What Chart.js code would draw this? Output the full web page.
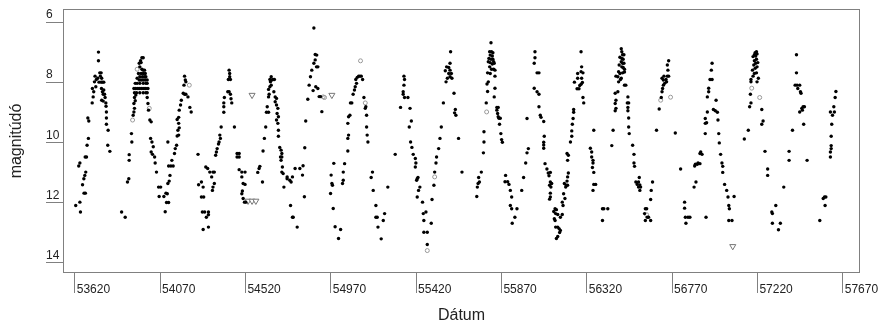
<!DOCTYPE html>
<html><head><meta charset="utf-8">
<script src="https://cdn.jsdelivr.net/npm/chart.js@4.4.1/dist/chart.umd.min.js"></script>
<style>html,body{margin:0;padding:0;background:#fff}</style>
</head><body>
<canvas id="c" width="879" height="322"></canvas>
<script>
// Julian date (-2400000) vs visual magnitude, one array per pulsation cycle
const cycle1 = [[53625,12.10],[53650,12.32],[53647,11.99],[53641,10.79],[53647,10.69],[53661,11.41],[53668,11.21],[53673,11.10],[53678,10.99],[53669,11.69],[53676,11.69],[53675,10.49],[53682,10.49],[53685,10.10],[53692,9.87],[53689,9.19],[53694,9.29],[53712,8.69],[53713,8.21],[53720,8.32],[53717,8.49],[53724,7.99],[53727,7.80],[53734,7.91],[53731,8.15],[53741,7.87],[53745,7.29],[53745,7.00],[53752,7.69],[53759,7.69],[53755,7.80],[53748,8.00],[53759,8.00],[53766,8.00],[53773,8.00],[53762,7.87],[53761,8.21],[53766,8.32],[53773,8.26],[53770,8.40],[53777,8.40],[53762,8.60],[53770,8.63],[53780,8.51],[53784,8.69],[53785,8.80],[53787,8.99],[53787,9.19],[53787,9.40],[53796,9.60],[53794,10.10],[53805,10.30]];
const cycle2 = [[53867,12.32],[53886,12.49],[53898,11.32],[53905,11.21],[53907,10.60],[53907,10.41],[53921,9.99],[53919,9.71],[53928,9.10],[53932,8.99],[53935,8.87],[53932,8.71],[53939,8.62],[53935,8.51],[53942,8.43],[53932,8.21],[53942,8.21],[53953,8.21],[53963,8.21],[53974,8.21],[53985,8.21],[53995,8.21],[54006,8.21],[53935,8.35],[53946,8.35],[53963,8.35],[53981,8.35],[53995,8.35],[54002,8.35],[53939,8.04],[53949,8.04],[53963,8.04],[53981,8.04],[53995,8.04],[54002,8.04],[53949,7.87],[53960,7.93],[53970,7.93],[53981,7.93],[53992,7.93],[54002,7.93],[53963,7.82],[53977,7.82],[53988,7.82],[53995,7.82],[53956,7.71],[53970,7.71],[53981,7.71],[53992,7.71],[53974,7.57],[53981,7.60],[53988,7.60],[53963,7.49],[53970,7.35],[53960,7.37],[53967,7.29],[53974,7.19],[53981,7.19],[54002,8.51],[54006,8.71],[54009,8.93],[54016,9.26],[54023,9.32],[54020,9.87],[54027,9.99],[54034,10.15],[54023,10.32],[54030,10.40],[54041,10.49],[54044,10.69],[54051,10.99]];
const cycle3 = [[54062,11.49],[54073,11.49],[54065,11.80],[54097,12.31],[54090,11.80],[54101,11.69],[54108,11.71],[54104,12.00],[54115,12.00],[54111,11.37],[54118,11.29],[54122,11.10],[54115,10.79],[54127,10.79],[54139,10.79],[54111,9.99],[54132,10.60],[54146,10.37],[54150,10.21],[54157,10.10],[54160,9.79],[54168,9.76],[54164,9.60],[54171,9.52],[54168,9.37],[54160,9.24],[54168,9.17],[54171,8.93],[54178,8.76],[54182,8.60],[54192,8.37],[54199,8.40],[54206,8.40],[54217,8.49],[54196,8.10],[54203,7.93],[54199,7.80],[54206,7.99],[54227,8.84],[54234,8.99]];
const cycle4 = [[54270,10.40],[54273,11.41],[54288,11.32],[54297,11.49],[54288,11.82],[54300,11.82],[54293,12.32],[54305,12.32],[54325,12.32],[54325,12.41],[54314,12.49],[54297,12.90],[54325,12.82],[54311,10.82],[54321,10.87],[54332,10.99],[54342,11.15],[54349,10.99],[54356,10.99],[54356,11.37],[54349,11.49],[54346,11.60],[54363,10.43],[54367,10.32],[54371,10.21],[54378,10.06],[54381,9.99],[54388,9.87],[54385,9.76],[54392,9.49],[54406,9.00],[54406,8.82],[54406,8.69],[54409,8.51],[54427,8.32],[54434,8.32],[54441,8.40],[54444,8.55],[54448,8.69],[54430,7.91],[54437,7.82],[54437,7.71],[54434,7.60],[54441,7.91],[54462,9.49],[54476,10.37],[54487,10.37],[54476,10.49],[54487,10.49],[54487,10.91],[54501,10.99],[54518,10.99],[54501,11.15],[54508,11.37],[54518,11.40],[54504,11.62],[54501,11.71],[54508,11.87],[54515,11.99],[54522,11.99]];
const cycle5 = [[54585,11.00],[54592,10.87],[54596,10.80],[54610,11.32],[54613,10.29],[54620,9.87],[54627,9.49],[54631,9.00],[54642,9.00],[54635,8.82],[54642,8.49],[54645,8.40],[54642,8.24],[54649,8.15],[54656,8.10],[54652,7.99],[54659,7.93],[54649,7.91],[54656,7.82],[54666,7.91],[54673,7.91],[54670,8.32],[54677,8.49],[54684,8.54],[54677,8.65],[54684,8.76],[54691,8.87],[54687,9.04],[54694,9.15],[54684,9.26],[54691,9.37],[54694,9.60],[54694,9.80],[54701,10.17],[54708,10.26],[54712,10.37],[54705,10.49],[54712,10.49],[54708,10.60],[54715,10.82],[54712,10.99],[54719,11.04],[54723,11.49],[54740,11.15],[54740,11.21],[54754,11.26],[54761,11.32],[54768,11.15],[54782,10.87],[54758,12.10],[54772,12.49],[54768,12.49],[54793,12.82]];
const cycle6 = [[54807,10.87],[54824,10.78],[54821,11.09],[54831,11.81],[54833,10.18],[54838,9.29],[54849,8.57],[54856,8.10],[54863,7.82],[54870,7.60],[54881,7.37],[54888,7.26],[54895,7.49],[54902,7.49],[54881,6.20],[54888,7.08],[54896,7.10],[54877,8.28],[54891,8.15],[54902,8.21],[54909,8.48],[54916,8.48],[54923,8.98]];
const cycle7 = [[54972,11.09],[54976,11.37],[54979,11.43],[54969,11.70],[54983,12.20],[54986,10.70],[55011,13.20],[54993,12.81],[55022,12.90],[55032,11.37],[55036,11.26],[55036,10.99],[55043,10.71],[55060,10.29],[55060,9.87],[55064,9.76],[55060,9.37],[55064,9.15],[55071,9.10],[55074,8.69],[55081,8.69],[55088,8.40],[55095,8.26],[55099,8.15],[55106,8.04],[55102,7.91],[55110,7.84],[55117,7.80],[55124,7.80],[55131,7.80],[55138,7.91],[55145,8.51],[55155,8.82],[55152,8.87],[55159,9.10],[55159,9.49],[55162,9.76],[55166,9.99],[55190,10.99],[55183,11.17],[55194,11.60],[55208,12.10],[55208,12.49],[55215,12.49],[55219,12.82],[55236,13.21],[55247,12.60],[55254,12.37],[55271,11.49],[55310,10.40]];
const cycle8 = [[55338,8.84],[55356,7.80],[55359,7.91],[55356,8.10],[55352,8.32],[55352,8.40],[55359,8.51],[55377,8.51],[55388,8.87],[55384,9.49],[55395,9.29],[55391,9.99],[55398,10.17],[55405,10.40],[55416,10.54],[55419,10.69],[55416,10.82],[55426,11.21],[55430,11.17],[55423,11.26],[55440,11.49],[55433,11.60],[55426,11.82],[55454,11.99],[55472,12.32],[55458,12.37],[55461,12.60],[55500,12.69],[55461,12.99],[55479,12.99],[55479,13.40]];
const cycle9 = [[55504,11.90],[55514,11.43],[55518,10.99],[55525,10.69],[55528,10.49],[55539,10.21],[55546,9.87],[55553,9.49],[55564,8.69],[55578,7.99],[55585,7.87],[55574,7.62],[55581,7.49],[55592,7.51],[55599,7.60],[55592,7.71],[55606,7.71],[55599,7.82],[55609,7.87],[55599,7.37],[55602,6.99],[55620,8.37],[55627,8.91],[55623,9.02],[55630,9.10],[55644,9.87],[55662,10.99]];
const cycle10 = [[55740,11.80],[55743,11.49],[55747,11.37],[55754,11.32],[55750,11.17],[55764,10.99],[55775,10.35],[55778,9.99],[55778,9.65],[55815,6.69],[55808,6.99],[55818,6.99],[55825,7.02],[55811,7.10],[55822,7.13],[55804,7.21],[55815,7.24],[55825,7.24],[55801,7.32],[55811,7.35],[55829,7.32],[55822,7.40],[55832,7.37],[55808,7.49],[55818,7.57],[55829,7.57],[55836,7.60],[55797,7.69],[55811,7.71],[55836,7.80],[55801,7.99],[55794,8.06],[55797,8.31],[55790,8.69],[55836,8.20],[55832,8.49],[55846,8.84],[55853,8.84],[55846,8.93],[55850,9.04],[55853,9.15],[55857,9.20],[55864,9.20],[55860,9.40],[55867,9.71],[55871,9.91],[55875,10.00],[55892,11.10],[55889,11.31],[55903,11.31],[55910,11.40],[55917,11.60],[55924,11.82],[55917,12.10],[55924,12.21],[55952,12.21],[55941,12.49],[55927,12.69]];
const cycle11 = [[55977,11.60],[55987,11.17],[55998,10.69],[56005,10.35],[56012,10.21],[56005,9.21],[56047,6.99],[56047,7.19],[56043,7.37],[56058,7.69],[56068,7.69],[56043,8.20],[56058,8.32],[56068,8.40],[56068,8.82],[56075,9.10],[56079,9.17],[56093,9.31],[56096,9.80],[56093,10.00],[56093,10.09],[56093,10.20],[56100,10.71],[56110,10.89],[56117,11.02],[56128,11.00],[56121,11.11],[56128,11.32],[56135,11.37],[56124,11.43],[56131,11.49],[56128,11.69],[56128,11.82],[56124,11.89],[56153,12.21],[56160,12.24],[56146,12.30],[56156,12.37],[56167,12.40],[56149,12.54],[56153,12.60],[56181,12.49],[56191,12.40],[56156,12.82],[56167,12.82],[56174,12.87],[56181,12.93],[56177,13.00],[56167,13.13],[56160,13.20]];
const cycle12 = [[56195,12.10],[56191,11.99],[56205,11.87],[56198,11.71],[56209,11.49],[56212,11.43],[56202,11.37],[56219,11.43],[56216,11.29],[56219,11.15],[56223,11.02],[56219,10.60],[56223,10.43],[56216,10.37],[56234,9.99],[56241,9.80],[56241,9.62],[56244,9.40],[56248,9.21],[56251,9.00],[56251,8.91],[56269,8.22],[56279,8.22],[56255,8.00],[56283,8.11],[56290,8.07],[56297,8.01],[56272,7.87],[56293,7.87],[56290,7.65],[56300,7.69],[56272,7.71],[56293,7.49],[56290,6.99],[56300,8.51],[56304,8.69],[56357,9.60],[56339,10.20],[56346,10.32],[56346,10.49],[56353,10.60],[56353,10.69],[56350,10.84],[56357,11.00],[56357,11.40],[56367,11.40],[56353,11.60],[56403,12.21],[56410,12.21],[56431,12.21],[56403,12.60]];
const cycle13 = [[56459,9.60],[56452,10.11],[56502,6.89],[56505,6.99],[56509,7.09],[56516,7.09],[56495,7.17],[56505,7.21],[56512,7.24],[56502,7.32],[56509,7.37],[56516,7.37],[56491,7.43],[56505,7.49],[56512,7.51],[56519,7.57],[56488,7.65],[56495,7.71],[56509,7.69],[56519,7.66],[56474,7.80],[56484,7.82],[56502,7.87],[56488,7.99],[56498,7.91],[56519,8.10],[56526,8.10],[56470,8.37],[56484,8.32],[56474,8.60],[56470,8.71],[56474,8.87],[56470,8.95],[56537,8.49],[56534,8.69],[56541,8.69],[56537,8.84],[56537,8.95],[56541,9.19],[56541,9.49],[56544,9.71],[56562,10.10],[56569,10.40],[56569,10.69],[56572,10.80],[56597,11.17],[56593,11.32],[56579,11.32],[56586,11.40],[56600,11.42],[56593,11.49],[56604,11.49],[56600,11.60],[56629,12.21],[56636,12.21],[56625,12.37],[56639,12.49],[56629,12.60],[56646,12.49],[56657,12.60],[56657,11.90],[56660,11.60],[56667,11.32]];
const cycle14 = [[56688,9.60],[56702,8.89],[56713,8.51],[56717,8.32],[56720,8.21],[56724,8.10],[56731,8.04],[56724,7.93],[56738,7.91],[56741,7.99],[56745,7.80],[56752,7.80],[56717,7.87],[56727,7.80],[56748,7.60],[56745,7.43],[56752,7.29],[56787,9.69],[56815,10.89],[56836,11.99],[56836,12.19],[56840,12.49],[56854,12.49],[56864,12.49],[56843,12.69]];
const cycle15 = [[56886,11.49],[56896,11.32],[56889,10.79],[56893,10.73],[56903,10.73],[56907,10.69],[56917,10.71],[56917,10.37],[56921,10.32],[56928,10.40],[56945,9.71],[56945,9.37],[56952,9.35],[56945,9.21],[56956,8.99],[56956,8.49],[56963,8.32],[56963,8.20],[56970,7.91],[56981,7.91],[56977,7.60],[56981,7.37],[56988,8.91],[56998,8.95],[57002,8.60],[57009,9.00],[57012,9.26],[57016,9.71],[57019,10.02],[57026,10.40],[57033,10.69],[57037,10.80],[57037,11.00],[57047,11.40],[57058,11.60],[57065,11.82],[57069,12.10],[57072,12.21],[57097,11.80],[57069,12.60],[57086,12.60],[56949,12.49]];
const cycle16 = [[57151,9.89],[57172,9.60],[57179,8.82],[57186,8.69],[57183,8.40],[57186,7.99],[57186,7.91],[57197,7.80],[57204,7.71],[57215,7.69],[57194,7.60],[57208,7.54],[57218,7.49],[57201,7.43],[57211,7.37],[57222,7.35],[57204,7.29],[57215,7.24],[57197,7.15],[57211,7.13],[57204,7.09],[57218,7.06],[57208,7.02],[57215,6.99],[57225,7.87],[57218,7.99],[57243,8.91],[57250,9.29],[57243,9.40],[57260,10.30],[57274,10.89],[57274,11.10],[57317,12.10],[57296,12.32],[57299,12.37],[57299,12.69],[57341,12.69],[57331,12.91],[57359,11.49]];
const cycle17 = [[57387,10.30],[57387,10.60],[57405,9.60],[57426,7.09],[57426,7.69],[57419,8.10],[57429,8.10],[57443,8.10],[57433,8.21],[57447,8.32],[57450,8.37],[57443,8.99],[57454,8.87],[57461,8.82],[57468,8.82],[57457,8.93],[57464,9.40],[57482,10.60]];
const cycle18 = [[57549,12.60],[57567,11.87],[57574,11.82],[57581,11.82],[57577,12.10],[57605,10.49],[57605,10.32],[57609,10.21],[57609,10.11],[57609,9.80],[57612,9.40],[57605,8.99],[57616,9.10],[57626,8.99],[57623,8.82],[57630,8.51],[57634,8.31]];
// secondary (grey) observations
const greyObs = [[53925,9.26],[53949,7.57],[54013,8.87],[54224,8.10],[54930,8.49],[54937,8.51],[55127,7.29],[55152,8.69],[55479,13.60],[55518,11.15],[55792,8.99],[56636,12.41],[56710,8.60],[56762,8.50],[57190,8.20],[57232,8.51]];
// fainter-than limits (open triangles)
const fainterThan = [[54555,8.43],[54534,11.95],[54555,11.95],[54575,11.95],[54976,8.43],[57090,13.46]];
const xTickValues = [53620,54070,54520,54970,55420,55870,56320,56770,57220,57670];
const yTickValues = [6,8,10,12,14];
const xLimits = [53558,57761];
const yLimits = [5.567,14.346];

const allCycles = [cycle1,cycle2,cycle3,cycle4,cycle5,cycle6,cycle7,cycle8,cycle9,cycle10,cycle11,cycle12,cycle13,cycle14,cycle15,cycle16,cycle17,cycle18];
const toPts = a => a.map(p => ({x: p[0], y: p[1]}));
const FONT = '"Liberation Sans", Arial, sans-serif';
Chart.defaults.font.family = FONT;

const framePlugin = {
  id: 'frame',
  beforeDatasetsDraw(chart) {
    const {ctx, chartArea: a} = chart;
    ctx.save();
    ctx.strokeStyle = '#808080';
    ctx.lineWidth = 1;
    ctx.strokeRect(a.left + 0.5, a.top + 0.5, a.right - a.left - 1, a.bottom - a.top - 1);
    ctx.restore();
  }
};

new Chart(document.getElementById('c'), {
  type: 'scatter',
  data: {
    datasets: [
      {data: toPts([].concat(...allCycles)), pointRadius: 1.7, pointHoverRadius: 1.7, pointBackgroundColor: '#000', pointBorderWidth: 0},
      {data: toPts(greyObs), pointRadius: 2, pointHoverRadius: 2, pointBackgroundColor: 'rgba(255,255,255,0)', pointBorderColor: '#999', pointBorderWidth: 1},
      {data: toPts(fainterThan), pointStyle: 'triangle', rotation: 180, pointRadius: 3.5, pointHoverRadius: 3.5, pointBackgroundColor: '#fff', pointBorderColor: '#777', pointBorderWidth: 1}
    ]
  },
  options: {
    responsive: false,
    devicePixelRatio: 1,
    animation: false,
    events: [],
    layout: {padding: {left: 46, top: 9, right: 19, bottom: 0}},
    plugins: {legend: {display: false}, tooltip: {enabled: false}},
    scales: {
      x: {
        type: 'linear', position: 'bottom',
        min: xLimits[0], max: xLimits[1],
        afterBuildTicks: s => { s.ticks = xTickValues.map(v => ({value: v})); },
        afterFit: s => { s.height = 49; s.paddingLeft = 0; s.paddingRight = 0; },
        ticks: {autoSkip: false, maxRotation: 0, minRotation: 0, align: 'start', labelOffset: 2, padding: -11,
                color: '#222', font: {size: 12, family: FONT}, callback: v => String(v)},
        grid: {drawOnChartArea: false, drawTicks: true, tickLength: 20, color: '#808080', lineWidth: 1},
        border: {display: false},
        title: {display: true, text: 'Dátum', color: '#222', font: {size: 16, family: FONT}, padding: {top: 0, bottom: -3}}
      },
      y: {
        type: 'linear', position: 'left', reverse: true,
        min: yLimits[0], max: yLimits[1],
        afterBuildTicks: s => { s.ticks = yTickValues.map(v => ({value: v})); },
        afterFit: s => { s.width = 17; s.paddingTop = 0; s.paddingBottom = 0; },
        ticks: {crossAlign: 'far', labelOffset: -7, padding: 0, color: '#222', font: {size: 12, family: FONT}, callback: v => String(v)},
        grid: {drawOnChartArea: false, drawTicks: true, tickLength: 17, color: '#808080', lineWidth: 1},
        border: {display: false},
        title: {display: true, text: 'magnitúdó', color: '#222', font: {size: 16, family: FONT}, padding: {top: -38.6, bottom: 0}}
      }
    }
  },
  plugins: [framePlugin]
});
</script>
</body></html>
